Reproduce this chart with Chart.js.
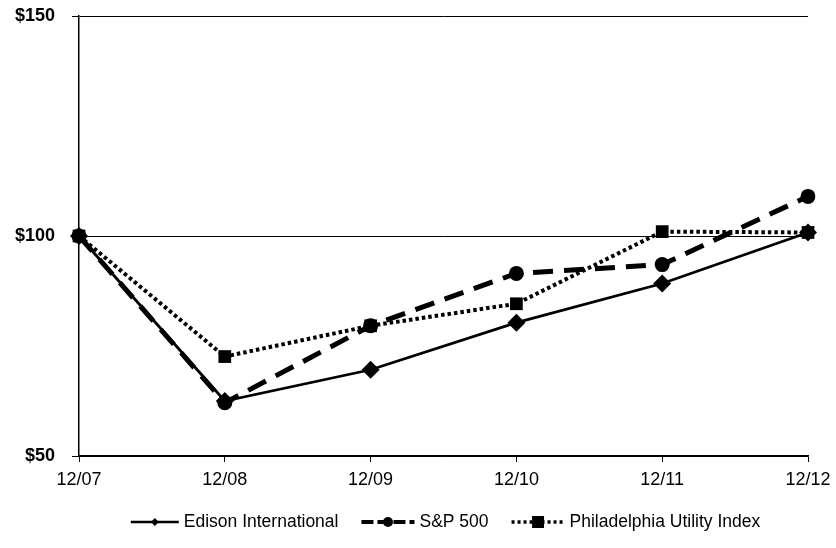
<!DOCTYPE html>
<html><head><meta charset="utf-8">
<script src="https://cdn.jsdelivr.net/npm/chart.js@4/dist/chart.umd.min.js"></script>
<style>html,body{margin:0;padding:0;background:#fff;}#wrap{width:836px;height:548px;position:relative;}</style>
</head><body><div id="wrap"><canvas id="c" width="836" height="548"></canvas></div>
<script>
const categories = ['12/07','12/08','12/09','12/10','12/11','12/12'];
const edison = [100, 62.5, 69.6, 80.3, 89.2, 100.8];
const sp500 = [100, 62.1, 79.6, 91.5, 93.5, 109.0];
const philly = [100, 72.6, 79.6, 84.6, 101.0, 100.8];
const yTicks = [50, 100, 150];
const seriesNames = ['Edison International', 'S&P 500', 'Philadelphia Utility Index'];

const legendSwatches = [
  { w: 48, dash: [], lw: 2.5, marker: 'diamond' },
  { w: 53, dash: [12, 4], lw: 4, marker: 'circle' },
  { w: 53, dash: [3, 3], lw: 3.5, marker: 'rect' }
];

const customLegend = {
  id: 'customLegend',
  afterDraw(chart) {
    const ctx = chart.ctx;
    const ca = chart.chartArea;
    ctx.save();
    ctx.font = '17.5px "Liberation Sans", Arial, sans-serif';
    ctx.textBaseline = 'middle';
    const gapText = 5, gapItem = 23;
    const widths = seriesNames.map((n, i) => legendSwatches[i].w + gapText + ctx.measureText(n).width);
    const total = widths.reduce((a, b) => a + b, 0) + gapItem * (widths.length - 1);
    let x = (ca.left + ca.right) / 2 - total / 2 + 2;
    const y = 522;
    seriesNames.forEach((name, i) => {
      const s = legendSwatches[i];
      ctx.strokeStyle = '#000'; ctx.fillStyle = '#000';
      ctx.lineWidth = s.lw; ctx.setLineDash(s.dash); ctx.lineCap = 'butt';
      ctx.beginPath(); ctx.moveTo(x, y); ctx.lineTo(x + s.w, y); ctx.stroke();
      ctx.setLineDash([]);
      const cx = x + s.w / 2;
      ctx.beginPath();
      if (s.marker === 'diamond') { ctx.moveTo(cx, y - 4); ctx.lineTo(cx + 4, y); ctx.lineTo(cx, y + 4); ctx.lineTo(cx - 4, y); ctx.closePath(); }
      else if (s.marker === 'circle') { ctx.arc(cx, y, 5, 0, Math.PI * 2); }
      else { ctx.rect(cx - 6, y - 6, 12, 12); }
      ctx.fill();
      ctx.fillText(name, x + s.w + gapText, y);
      x += widths[i] + gapItem;
    });
    ctx.restore();
  }
};

new Chart(document.getElementById('c'), {
  type: 'line',
  data: {
    labels: categories,
    datasets: [
      { label: seriesNames[0], data: edison, borderColor: '#000', backgroundColor: '#000', borderWidth: 2.8,
        pointStyle: 'rectRot', pointRadius: 9, pointBackgroundColor: '#000', pointBorderWidth: 0, tension: 0 },
      { label: seriesNames[1], data: sp500, borderColor: '#000', backgroundColor: '#000', borderWidth: 5,
        borderDash: [20, 11], pointStyle: 'circle', pointRadius: 7.5, pointBackgroundColor: '#000', pointBorderWidth: 0, tension: 0 },
      { label: seriesNames[2], data: philly, borderColor: '#000', backgroundColor: '#000', borderWidth: 4,
        borderDash: [3.5, 3], pointStyle: 'rect', pointRadius: 9, pointBackgroundColor: '#000', pointBorderWidth: 0, tension: 0 }
    ]
  },
  plugins: [customLegend],
  options: {
    responsive: false, animation: false,
    layout: { padding: { left: 0, right: 28, top: 16, bottom: 0 } },
    plugins: {
      tooltip: { enabled: false },
      legend: { display: false }
    },
    scales: {
      x: {
        offset: false,
        grid: { display: true, drawOnChartArea: false, drawTicks: true, tickLength: 6, color: '#000' },
        border: { display: true, color: '#000', width: 1.5 },
        ticks: { color: '#000', font: { family: 'Liberation Sans', size: 18 }, padding: 7, maxRotation: 0 },
        afterFit: (s) => { s.height = 92; s.paddingLeft = 0; s.paddingRight = 0; }
      },
      y: {
        min: 50, max: 150,
        afterBuildTicks: (s) => { s.ticks = yTicks.map(v => ({ value: v })); },
        grid: { color: '#000', lineWidth: 1, tickLength: 7 },
        border: { display: true, color: '#000', width: 1.5 },
        ticks: { color: '#000', font: { family: 'Liberation Sans', size: 18, weight: 'bold' }, padding: 17, callback: (v) => '$' + v },
        afterFit: (s) => { s.width = 79; s.paddingTop = 0; s.paddingBottom = 0; }
      }
    }
  }
});
</script></body></html>
